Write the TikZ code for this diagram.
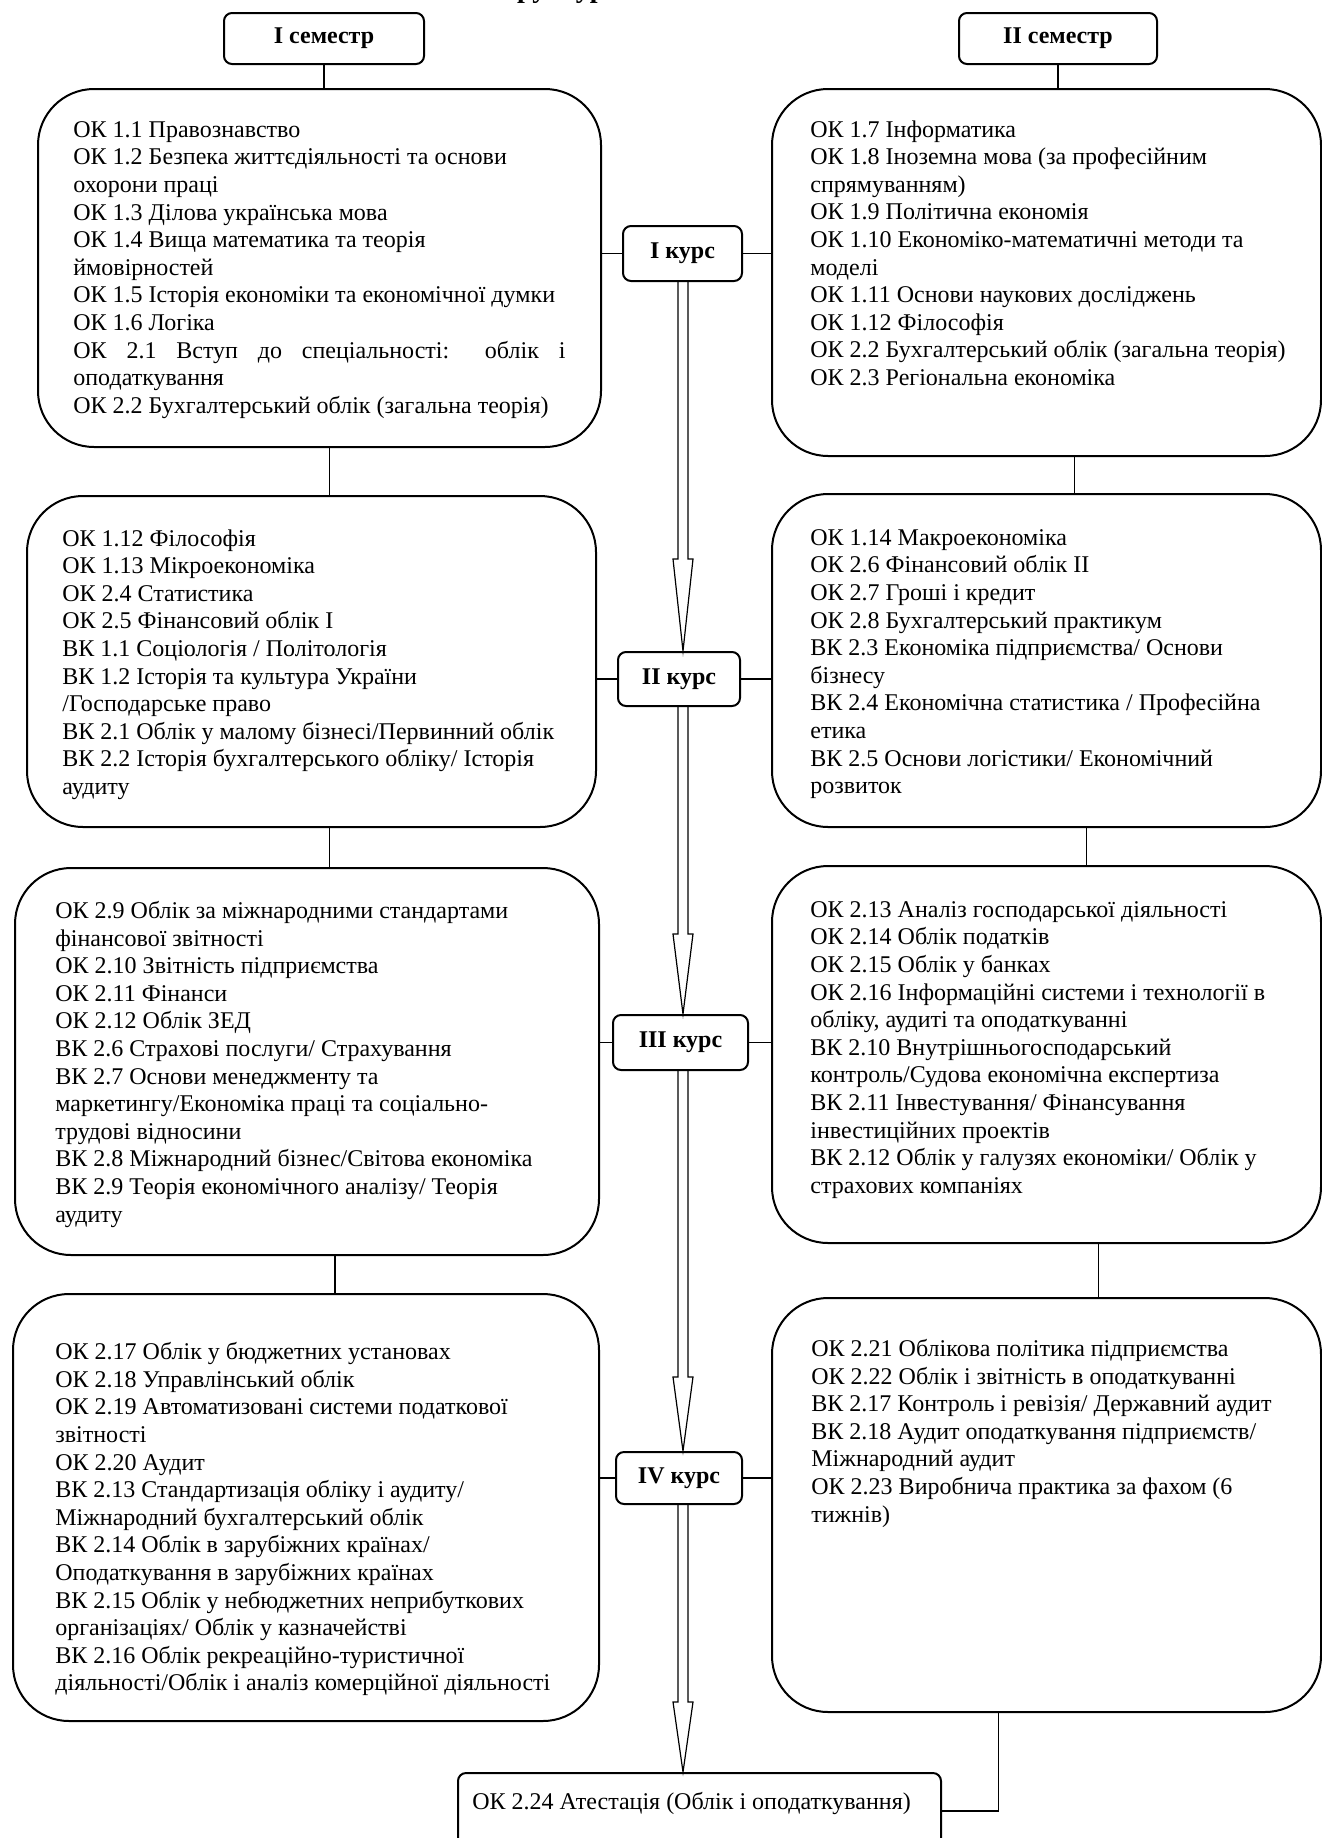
\documentclass[tikz,border=0pt]{standalone}
\usepackage{fontspec}
\setmainfont{Liberation Serif}
\usetikzlibrary{calc,positioning}

\begin{document}
\begin{tikzpicture}[x=0.5pt, y=-0.5pt,
  bigbox/.style={draw, line width=1pt, rounded corners=28pt, inner sep=0pt, anchor=north west},
  smallbox/.style={draw, line width=1pt, rounded corners=4pt, inner sep=0pt, font=\fontsize{12pt}{13.8pt}\selectfont\bfseries},
  txt/.style={anchor=north west, inner sep=0pt, align=left, font=\fontsize{12pt}{13.8pt}\selectfont},
  conn/.style={line width=0.7pt},
  hollow/.style={line width=0.6pt}]
\useasboundingbox (0,0) rectangle (1322,1838);
\fill[white] (0,0) rectangle (1322,1838);
\node[anchor=base, inner sep=0pt, font=\fontsize{14pt}{16pt}\selectfont\bfseries] (title) at (651,-3) {Структурно-логічна схема};

% semesters
\node[smallbox, minimum width=100pt, minimum height=25.5pt] (sem1) at (324,38.5) {I семестр};
\node[smallbox, minimum width=99pt, minimum height=25.5pt] (sem2) at (1058,38.5) {II семестр};

% boxes of the left and right columns
\node[bigbox, minimum width=281.5pt, minimum height=179pt] (l1) at (37,88) {};
\node[bigbox, minimum width=274.5pt, minimum height=183.5pt] (r1) at (771,88) {};
\node[bigbox, minimum width=284.5pt, minimum height=165.5pt] (l2) at (26,495) {};
\node[bigbox, minimum width=274.5pt, minimum height=166.5pt] (r2) at (771,493) {};
\node[bigbox, minimum width=292pt, minimum height=193.5pt] (l3) at (14,867) {};
\node[bigbox, minimum width=274.5pt, minimum height=188.5pt] (r3) at (771,865) {};
\node[bigbox, minimum width=293pt, minimum height=213.5pt] (l4) at (12,1293) {};
\node[bigbox, minimum width=274.5pt, minimum height=207pt] (r4) at (771,1297) {};
\node[draw, line width=1pt, rounded corners=4pt, inner sep=0pt, anchor=north west,
  minimum width=241.5pt, minimum height=38pt] (att) at (457,1772) {};

% courses
\node[smallbox, minimum width=59.5pt, minimum height=27.5pt] (k1) at (682.5,253.5) {I курс};
\node[smallbox, minimum width=61pt, minimum height=27pt] (k2) at (679,679) {II курс};
\node[smallbox, minimum width=67.5pt, minimum height=27.5pt] (k3) at (680.5,1042.5) {III курс};
\node[smallbox, minimum width=63pt, minimum height=26pt] (k4) at (679,1478) {IV курс};

\node[txt] (l1t) at (73,121) {ОК 1.1 Правознавство\\
ОК 1.2 Безпека життєдіяльності та основи\\
охорони праці\\
ОК 1.3 Ділова українська мова\\
ОК 1.4 Вища математика та теорія\\
ймовірностей\\
ОК 1.5 Історія економіки та економічної думки\\
ОК 1.6 Логіка\\
\makebox[246pt][s]{ОК 2.1 Вступ до спеціальності: облік і}\\
оподаткування\\
ОК 2.2 Бухгалтерський облік (загальна теорія)};

\node[txt] (r1t) at (810,120) {ОК 1.7 Інформатика\\
ОК 1.8 Іноземна мова (за професійним\\
спрямуванням)\\
ОК 1.9 Політична економія\\
ОК 1.10 Економіко-математичні методи та\\
моделі\\
ОК 1.11 Основи наукових досліджень\\
ОК 1.12 Філософія\\
ОК 2.2 Бухгалтерський облік (загальна теорія)\\
ОК 2.3 Регіональна економіка};

\node[txt] (l2t) at (62,529) {ОК 1.12 Філософія\\
ОК 1.13 Мікроекономіка\\
ОК 2.4 Статистика\\
ОК 2.5 Фінансовий облік I\\
ВК 1.1 Соціологія / Політологія\\
ВК 1.2 Історія та культура України\\
/Господарське право\\
ВК 2.1 Облік у малому бізнесі/Первинний облік\\
ВК 2.2 Історія бухгалтерського обліку/ Історія\\
аудиту};

\node[txt] (r2t) at (810,529) {ОК 1.14 Макроекономіка\\
ОК 2.6 Фінансовий облік II\\
ОК 2.7 Гроші і кредит\\
ОК 2.8 Бухгалтерський практикум\\
ВК 2.3 Економіка підприємства/ Основи\\
бізнесу\\
ВК 2.4 Економічна статистика / Професійна\\
етика\\
ВК 2.5 Основи логістики/ Економічний\\
розвиток};

\node[txt] (l3t) at (55,901) {ОК 2.9 Облік за міжнародними стандартами\\
фінансової звітності\\
ОК 2.10 Звітність підприємства\\
ОК 2.11 Фінанси\\
ОК 2.12 Облік ЗЕД\\
ВК 2.6 Страхові послуги/ Страхування\\
ВК 2.7 Основи менеджменту та\\
маркетингу/Економіка праці та соціально-\\
трудові відносини\\
ВК 2.8 Міжнародний бізнес/Світова економіка\\
ВК 2.9 Теорія економічного аналізу/ Теорія\\
аудиту};

\node[txt] (r3t) at (810,901) {ОК 2.13 Аналіз господарської діяльності\\
ОК 2.14 Облік податків\\
ОК 2.15 Облік у банках\\
ОК 2.16 Інформаційні системи і технології в\\
обліку, аудиті та оподаткуванні\\
ВК 2.10 Внутрішньогосподарський\\
контроль/Судова економічна експертиза\\
ВК 2.11 Інвестування/ Фінансування\\
інвестиційних проектів\\
ВК 2.12 Облік у галузях економіки/ Облік у\\
страхових компаніях};

\node[txt] (l4t) at (55,1342) {ОК 2.17 Облік у бюджетних установах\\
ОК 2.18 Управлінський облік\\
ОК 2.19 Автоматизовані системи податкової\\
звітності\\
ОК 2.20 Аудит\\
ВК 2.13 Стандартизація обліку і аудиту/\\
Міжнародний бухгалтерський облік\\
ВК 2.14 Облік в зарубіжних країнах/\\
Оподаткування в зарубіжних країнах\\
ВК 2.15 Облік у небюджетних неприбуткових\\
організаціях/ Облік у казначействі\\
ВК 2.16 Облік рекреаційно-туристичної\\
діяльності/Облік і аналіз комерційної діяльності};

\node[txt] (r4t) at (811,1339) {ОК 2.21 Облікова політика підприємства\\
ОК 2.22 Облік і звітність в оподаткуванні\\
ВК 2.17 Контроль і ревізія/ Державний аудит\\
ВК 2.18 Аудит оподаткування підприємств/\\
Міжнародний аудит\\
ОК 2.23 Виробнича практика за фахом (6\\
тижнів)};

\node[txt] (attt) at (472,1792) {ОК 2.24 Атестація (Облік і оподаткування)};

% connectors
\draw[conn] (sem1.south) -- (sem1.south |- l1.north);
\draw[conn] (sem2.south) -- (sem2.south |- r1.north);
\draw[conn] ([xshift=5pt]l1.south) -- ([xshift=5pt]l1.south |- l2.north);
\draw[conn] ([xshift=9pt]l2.south) -- ([xshift=9pt]l2.south |- l3.north);
\draw[conn] ([xshift=14pt]l3.south) -- ([xshift=14pt]l3.south |- l4.north);
\draw[conn] ([xshift=14pt]r1.south) -- ([xshift=14pt]r1.south |- r2.north);
\draw[conn] ([xshift=20pt]r2.south) -- ([xshift=20pt]r2.south |- r3.north);
\draw[conn] ([xshift=26pt]r3.south) -- ([xshift=26pt]r3.south |- r4.north);
\draw[conn] ([xshift=-24pt]r4.south) |- (att.east);
\foreach \i in {1,2,3,4}{\draw[conn] (l\i.east |- k\i.west) -- (k\i.west) (k\i.east) -- (k\i.east -| r\i.west);}

% hollow arrows down the middle
\foreach \a/\b/\h in {k1/k2/46,k2/k3/40,k3/k4/37,k4/att/35}{
\draw[hollow] let \p1=(\a.south), \p2=(\b.north), \p3=(683,0) in
 (\x3-2.5pt,\y1) -- (\x3-2.5pt,\y2+\h pt) -- (\x3-5pt,\y2+\h pt) -- (\x3,\y2)
 -- (\x3+5pt,\y2+\h pt) -- (\x3+2.5pt,\y2+\h pt) -- (\x3+2.5pt,\y1);}
\end{tikzpicture}
\end{document}
